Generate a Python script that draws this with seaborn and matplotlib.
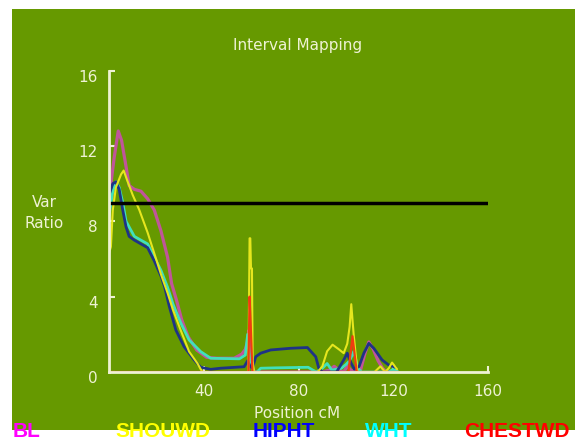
import numpy as np
import pandas as pd
import seaborn as sns
import matplotlib.pyplot as plt
from matplotlib.patches import Rectangle
from matplotlib.transforms import ScaledTranslation

sns.set_style("ticks")
plt.rcParams['font.family'] = ['DejaVu Sans']

# values (position cM, variance ratio)
bl_x = [0, 0.8, 2.2, 3.9, 5.3, 7.2, 8.5, 10.7, 13.5, 16.3, 19.1, 21.9, 24.7, 26.4, 28.5, 30.7, 33.4, 37, 41.2, 45.4,
        52.8, 56, 57.5, 58.4, 59, 60, 61, 62, 90, 93, 95, 97, 99, 100.5, 102, 104, 106, 108, 109.6, 111.5,
        113.5, 115.4, 117, 121]
bl_y = [9.6, 10.0, 11.4, 12.8, 12.3, 10.9, 9.9, 9.7, 9.6, 9.2, 8.6, 7.5, 6.1, 4.7, 3.8, 2.76, 1.87, 1.17, 0.78, 0.73,
        0.73, 0.95, 1.2, 1.6, 2.2, 0.5, 0, 0, 0, 0.1, 0.3, 0.1, 0, 0.3, 0.1, 0, 0.05, 1.0, 1.6, 1.2,
        0.6, 0.2, 0, 0]

shouwd_x = [0, 0.8, 1.6, 2.9, 5.1, 6.2, 7.6, 10, 12.8, 16.3, 19.1, 21.9, 24.7, 27, 30.3, 33.8, 37.3, 38.7, 39.5, 58.8,
            59.3, 59.6, 59.9, 60.3, 60.6, 61.2, 88, 90, 92, 94.3, 97, 99, 100.5, 101.5, 102.2, 103.2, 104.8, 112, 114.5, 116.5,
            118, 119.4, 121.5]
shouwd_y = [6.3, 6.65, 8.6, 9.8, 10.5, 10.7, 10.2, 9.4, 8.6, 7.4, 6.3, 5.2, 4.2, 3.3, 2.2, 1.08, 0.46, 0.14, 0, 0,
            7.1, 7.1, 5.5, 5.5, 0.6, 0, 0, 0.3, 1.1, 1.45, 1.2, 1.0, 1.5, 2.4, 3.6, 2.0, 0, 0, 0.3, 0,
            0.2, 0.5, 0.15]

hipht_x = [0, 1.6, 2.9, 4.3, 5.8, 7.2, 8.5, 10.7, 13.5, 16.3, 19.1, 21.9, 23.5, 25.4, 28.2, 31.7, 35.9, 38.7, 42.9, 47,
           57, 58.5, 59.5, 60.5, 61.9, 64, 68.2, 76.6, 83.7, 87.2, 88.5, 90, 96, 99, 100.5, 102, 103.5, 105.5, 107.5, 109.6,
           111.7, 115.2, 118, 120.8]
hipht_y = [9.4, 10.0, 10.1, 9.7, 8.6, 7.7, 7.2, 7.0, 6.8, 6.6, 5.9, 5.1, 4.5, 3.5, 2.23, 1.34, 0.64, 0.25, 0.14, 0.2,
           0.28, 0.6, 0.3, 0.2, 0.81, 1.0, 1.17, 1.26, 1.3, 0.81, 0.2, 0, 0, 0.64, 1.0, 0.5, 0.15, 0.3, 1.0, 1.52,
           1.26, 0.64, 0.37, 0.25]

wht_x = [0, 1.6, 2.9, 4.3, 5.8, 7.2, 10.7, 16.3, 21.9, 24.7, 27, 30.3, 33.8, 38.7, 42.9, 55, 57.5, 58.5, 59.5, 61,
         62.5, 64, 70, 84, 86, 87.5, 90, 92, 94, 98, 100, 101.5, 103.3, 105, 106.5, 118, 120, 122]
wht_y = [8.3, 9.6, 10.1, 9.8, 9.0, 8.0, 7.2, 6.8, 5.4, 4.5, 3.6, 2.6, 1.7, 1.08, 0.73, 0.7, 0.9, 2.0, 0.5, 0,
         0, 0.2, 0.22, 0.25, 0.1, 0, 0.2, 0.45, 0.1, 0.2, 0.4, 0.6, 1.1, 0.2, 0, 0, 0.15, 0]

chestwd_x = [0, 58.8, 59.3, 59.8, 60.5, 101, 102.7, 104.5, 122]
chestwd_y = [0, 0, 4.0, 2.4, 0, 0, 1.9, 0, 0]

threshold = 9.0
x_ticks = [40, 80, 120, 160]
y_ticks = [0, 4, 8, 12, 16]
traits = ['BL', 'SHOUWD', 'HIPHT', 'WHT', 'CHESTWD']

curves = {'BL': (bl_x, bl_y), 'SHOUWD': (shouwd_x, shouwd_y), 'HIPHT': (hipht_x, hipht_y),
          'WHT': (wht_x, wht_y), 'CHESTWD': (chestwd_x, chestwd_y)}
df = pd.concat([pd.DataFrame({'trait': t, 'pos': curves[t][0], 'ratio': curves[t][1]}) for t in traits])

green = '#669900'
pale = '#eef2d4'
line_colors = {'BL': '#c0559a', 'SHOUWD': '#e6e61e', 'HIPHT': '#1e3386', 'WHT': '#40e0bc', 'CHESTWD': '#f03c10'}
line_widths = {'BL': 2.3, 'SHOUWD': 1.5, 'HIPHT': 2.0, 'WHT': 2.0, 'CHESTWD': 1.6}
label_colors = {'BL': '#ff00ff', 'SHOUWD': '#ffff00', 'HIPHT': '#0000ff', 'WHT': '#00ffff', 'CHESTWD': '#ff0000'}
label_x = {'BL': 13, 'SHOUWD': 115, 'HIPHT': 253, 'WHT': 365, 'CHESTWD': 464}

W, H = 575, 442
fig = plt.figure(figsize=(W / 100, H / 100), dpi=100)
fig.patch.set_facecolor('white')
fig.add_artist(Rectangle((12 / W, 1 - 430 / H), 1 - 12 / W, 421 / H, transform=fig.transFigure,
                         facecolor=green, edgecolor='none', zorder=0))

ax = fig.add_axes([109 / W, 1 - 372 / H, 379.3 / W, 301.3 / H])
ax.set_facecolor('none')

for t in ['BL', 'WHT', 'HIPHT', 'SHOUWD', 'CHESTWD']:
    sns.lineplot(data=df[df.trait == t], x='pos', y='ratio', color=line_colors[t],
                 linewidth=line_widths[t], estimator=None, sort=False, ax=ax)

ax.axhline(threshold, color='black', linewidth=2.5, zorder=3)

ax.set_xlim(0, 160)
ax.set_ylim(0, 16)
ax.set_xticks(x_ticks)
ax.set_yticks(y_ticks)
ax.set_xlabel('')
ax.set_ylabel('')
for s in ['top', 'right']:
    ax.spines[s].set_visible(False)
for s in ['left', 'bottom']:
    ax.spines[s].set_color(pale)
    ax.spines[s].set_linewidth(2)
    ax.spines[s].set_zorder(4)
ax.tick_params(direction='in', length=4, width=1.5, color=pale, labelcolor=pale, labelsize=11)
ax.tick_params(axis='x', pad=9)
ax.tick_params(axis='y', pad=8)
for lab in ax.get_yticklabels():
    lab.set_transform(lab.get_transform() + ScaledTranslation(0, -5 / 100, fig.dpi_scale_trans))

fig.text(298 / W, 1 - 50 / H, 'Interval Mapping', ha='center', va='baseline', color=pale, fontsize=11)
fig.text(44 / W, 1 - 213 / H, 'Var\nRatio', ha='center', va='center', color=pale, fontsize=11, linespacing=1.45)
fig.text(297 / W, 1 - 414 / H, 'Position cM', ha='center', va='center', color=pale, fontsize=11)

for t in traits:
    fig.text(label_x[t] / W, 1 - 437 / H, t, color=label_colors[t], fontsize=15, fontweight='bold',
             family=['Liberation Sans', 'DejaVu Sans'], ha='left', va='baseline')

fig.savefig('out.png', dpi=100)
